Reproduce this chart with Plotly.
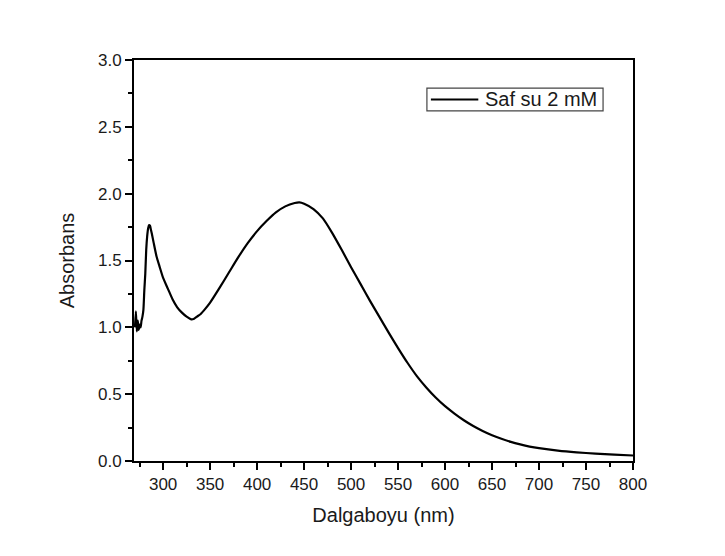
import plotly.graph_objects as go

# UV-Vis absorbance spectrum
series_name = "Saf su 2 mM"
wavelength = [270, 271, 272, 273, 274, 275, 276, 277, 278, 279, 280, 281, 282, 283, 284, 285, 286, 287, 288,
              290, 293, 296, 300, 305, 310, 315, 320, 325, 330, 333, 336, 340, 345, 350, 360, 370, 380, 390,
              400, 410, 420, 430, 440, 445, 450, 460, 470, 480, 490, 500, 510, 520, 530, 540, 550, 560, 570,
              580, 590, 600, 610, 620, 630, 640, 650, 660, 670, 680, 690, 700, 720, 740, 760, 780, 800]
absorbance = [1.00, 1.12, 0.97, 1.05, 0.98, 1.02, 1.00, 1.05, 1.08, 1.13, 1.28, 1.40, 1.58, 1.68, 1.74, 1.765,
              1.76, 1.73, 1.70, 1.63, 1.53, 1.46, 1.37, 1.29, 1.21, 1.15, 1.11, 1.08, 1.06, 1.065, 1.08, 1.10,
              1.14, 1.185, 1.295, 1.41, 1.525, 1.63, 1.72, 1.795, 1.86, 1.905, 1.93, 1.935, 1.925, 1.885, 1.815,
              1.705, 1.58, 1.45, 1.325, 1.20, 1.08, 0.96, 0.845, 0.735, 0.635, 0.55, 0.475, 0.41, 0.355, 0.305,
              0.262, 0.225, 0.193, 0.166, 0.143, 0.124, 0.108, 0.096, 0.078, 0.065, 0.055, 0.047, 0.041]

FONT = "Liberation Sans, Arial"
TEXT_COLOR = "#1a1a1a"

fig = go.Figure(go.Scatter(
    x=wavelength, y=absorbance, mode="lines", name=series_name,
    line=dict(color="black", width=2.2, shape="spline", smoothing=0.6),
    showlegend=False,
))

axis_common = dict(
    showline=True, linecolor="black", linewidth=2, mirror=True,
    ticks="outside", ticklen=7, tickwidth=2, tickcolor="black",
    showgrid=False, zeroline=False,
    tickfont=dict(family=FONT, size=17, color=TEXT_COLOR),
    title_font=dict(family=FONT, size=20, color=TEXT_COLOR),
)

fig.update_xaxes(
    range=[269, 800], tick0=300, dtick=50, title_text="Dalgaboyu (nm)", title_standoff=15,
    minor=dict(ticks="outside", ticklen=4, tickwidth=2, tickcolor="black", dtick=25, tick0=275),
    **axis_common,
)
fig.update_yaxes(
    range=[0, 3.0], tick0=0, dtick=0.5, tickformat=".1f", title_text="Absorbans", title_standoff=18,
    minor=dict(ticks="outside", ticklen=4, tickwidth=2, tickcolor="black", dtick=0.25),
    **axis_common,
)

# Boxed legend drawn in paper coordinates
box_x0, box_x1, box_y0, box_y1 = 0.587, 0.940, 0.873, 0.930
y_mid = (box_y0 + box_y1) / 2
fig.add_shape(type="rect", xref="paper", yref="paper", x0=box_x0, x1=box_x1, y0=box_y0, y1=box_y1,
              line=dict(color="#444", width=1.2), fillcolor="white", layer="above")
fig.add_shape(type="line", xref="paper", yref="paper", x0=0.595, x1=0.690, y0=y_mid, y1=y_mid,
              line=dict(color="black", width=2.2), layer="above")
fig.add_annotation(xref="paper", yref="paper", x=0.699, y=y_mid, xanchor="left", yanchor="middle",
                   text=series_name, showarrow=False,
                   font=dict(family=FONT, size=20, color=TEXT_COLOR))

fig.update_layout(
    width=725, height=556,
    margin=dict(l=134, r=92, t=60, b=95),
    paper_bgcolor="white", plot_bgcolor="white",
)

fig.write_html("out.html")
